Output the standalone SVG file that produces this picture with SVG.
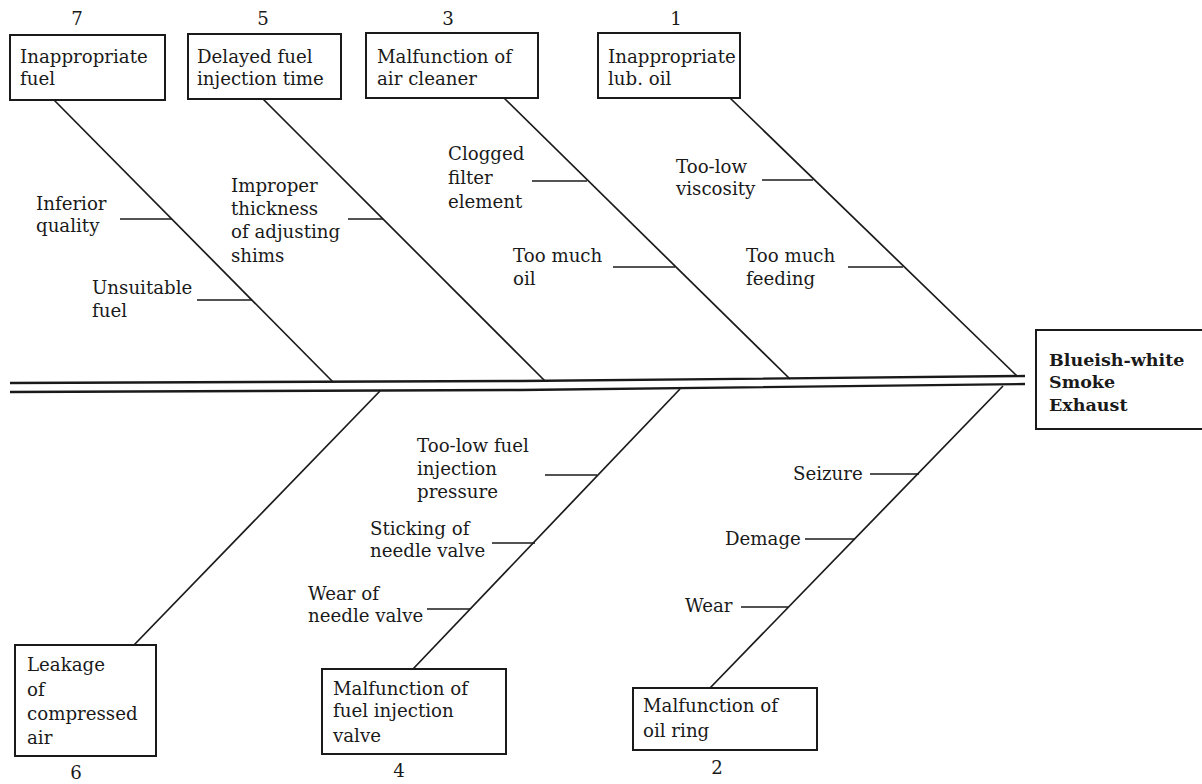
<svg xmlns="http://www.w3.org/2000/svg" width="1202" height="784" viewBox="0 0 1202 784">
<style>
text{font-family:"DejaVu Serif","Liberation Serif",serif;font-size:18.2px;fill:#1a1a1a}
.b{font-weight:bold;font-size:17.5px}
.n{text-anchor:middle}
rect{fill:#fff;stroke:#1a1a1a;stroke-width:2}
line,polyline{stroke:#1a1a1a;stroke-width:1.7;fill:none}
.sp{stroke-width:2.4}
</style>
<rect width="1202" height="784" style="fill:#fff;stroke:none"/>
<g id="connectors">
<polyline class="sp" points="10,383 520,381 1025,376"/>
<polyline class="sp" points="10,392 520,390 1025,384"/>
<line x1="54" y1="100" x2="333" y2="382"/>
<line x1="263" y1="99" x2="545" y2="381"/>
<line x1="504" y1="98" x2="790" y2="379"/>
<line x1="730" y1="98" x2="1017" y2="376"/>
<line x1="380" y1="391" x2="134" y2="645"/>
<line x1="680" y1="389" x2="413" y2="669"/>
<line x1="1003" y1="386" x2="710" y2="688"/>
<line x1="120" y1="219" x2="172" y2="219"/>
<line x1="197" y1="300" x2="252" y2="300"/>
<line x1="348" y1="219" x2="383" y2="219"/>
<line x1="532" y1="181" x2="587" y2="181"/>
<line x1="613" y1="267" x2="675" y2="267"/>
<line x1="762" y1="180" x2="813" y2="180"/>
<line x1="848" y1="267" x2="903" y2="267"/>
<line x1="545" y1="475" x2="597" y2="475"/>
<line x1="492" y1="543" x2="535" y2="543"/>
<line x1="427" y1="609" x2="470" y2="609"/>
<line x1="870" y1="474" x2="919" y2="474"/>
<line x1="805" y1="539" x2="855" y2="539"/>
<line x1="741" y1="607" x2="788" y2="607"/>
</g>
<g id="labels">
<text x="36" y="210">Inferior</text><text x="36" y="232">quality</text>
<text x="92" y="294">Unsuitable</text><text x="92" y="317">fuel</text>
<text x="231" y="192">Improper</text><text x="231" y="215">thickness</text><text x="231" y="238">of adjusting</text><text x="231" y="262">shims</text>
<text x="448" y="160">Clogged</text><text x="448" y="184">filter</text><text x="448" y="208">element</text>
<text x="513" y="262">Too much</text><text x="513" y="285">oil</text>
<text x="676" y="173">Too-low</text><text x="676" y="195">viscosity</text>
<text x="746" y="262">Too much</text><text x="746" y="285">feeding</text>
<text x="417" y="452">Too-low fuel</text><text x="417" y="475">injection</text><text x="417" y="498">pressure</text>
<text x="370" y="535">Sticking of</text><text x="370" y="557">needle valve</text>
<text x="308" y="600">Wear of</text><text x="308" y="622">needle valve</text>
<text x="793" y="480">Seizure</text>
<text x="725" y="545">Demage</text>
<text x="685" y="612">Wear</text>
</g>
<g id="n7"><text class="n" x="77" y="25">7</text><rect x="10" y="35" width="155" height="65"/><text x="20" y="63">Inappropriate</text><text x="20" y="85">fuel</text></g>
<g id="n5"><text class="n" x="263" y="25">5</text><rect x="188" y="34" width="153" height="65"/><text x="197" y="63">Delayed fuel</text><text x="197" y="85">injection time</text></g>
<g id="n3"><text class="n" x="448" y="25">3</text><rect x="366" y="33" width="172" height="65"/><text x="377" y="63">Malfunction of</text><text x="377" y="85">air cleaner</text></g>
<g id="n1"><text class="n" x="676" y="25">1</text><rect x="598" y="33" width="142" height="65"/><text x="608" y="63">Inappropriate</text><text x="608" y="85">lub. oil</text></g>
<g id="effect"><rect x="1036" y="330" width="170" height="99"/><text class="b" x="1049" y="366">Blueish-white</text><text class="b" x="1049" y="388">Smoke</text><text class="b" x="1049" y="411">Exhaust</text></g>
<g id="n6"><rect x="15" y="645" width="141" height="111"/><text x="27" y="671">Leakage</text><text x="27" y="696">of</text><text x="27" y="720">compressed</text><text x="27" y="744">air</text><text class="n" x="76" y="779">6</text></g>
<g id="n4"><rect x="322" y="669" width="184" height="85"/><text x="333" y="695">Malfunction of</text><text x="333" y="717">fuel injection</text><text x="333" y="742">valve</text><text class="n" x="399" y="777">4</text></g>
<g id="n2"><rect x="633" y="688" width="184" height="62"/><text x="643" y="712">Malfunction of</text><text x="643" y="737">oil ring</text><text class="n" x="717" y="774">2</text></g>
</svg>
